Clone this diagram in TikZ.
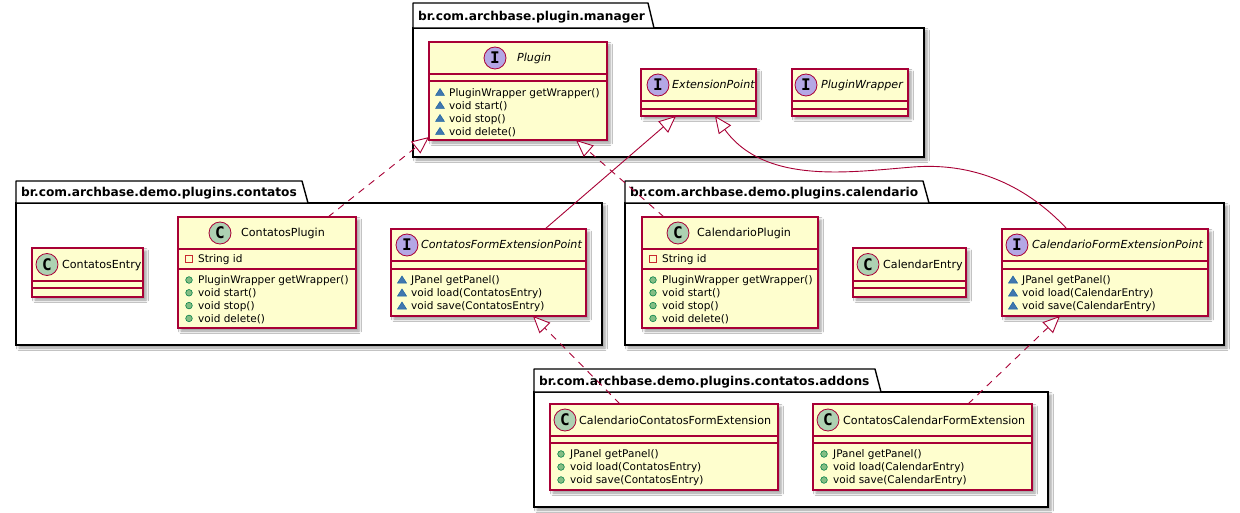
\documentclass[tikz,border=0pt]{standalone}
\usepackage{fontspec}
\setmainfont{DejaVu Sans}
\newfontfamily\glyphfont{DejaVu Sans Mono}
\usetikzlibrary{arrows.meta,shadows.blur,calc}

\definecolor{umlred}{HTML}{A80036}
\definecolor{umlfill}{HTML}{FEFECE}
\definecolor{cgreen}{HTML}{ADD1B2}
\definecolor{ipurple}{HTML}{B4A7E5}
\definecolor{pubfill}{HTML}{84BE84}
\definecolor{publine}{HTML}{038048}
\definecolor{pkgfill}{HTML}{4177AF}
\definecolor{pkgline}{HTML}{1963A0}
\definecolor{privline}{HTML}{C82930}

\tikzset{
  boxshadow/.style={blur shadow={shadow xshift=3pt, shadow yshift=-3pt,
      shadow blur radius=2.5pt, shadow opacity=40}},
  classbox/.style={draw=umlred, fill=umlfill, line width=1.1pt, inner sep=0pt,
      outer sep=0pt, anchor=north west, boxshadow},
  sepstyle/.style={draw=umlred, line width=1.1pt},
  pkgbody/.style={draw=black, fill=white, line width=1.4pt, inner sep=0pt,
      outer sep=0pt, anchor=north west, boxshadow},
  pkgtab/.style={draw=black, fill=white, line width=1.4pt, line join=round},
  pkglabel/.style={anchor=base west, inner sep=0pt,
      font=\bfseries\fontsize{12.2}{14}\selectfont},
  nametext/.style={anchor=base west, inner sep=0pt,
      font=\fontsize{11.1}{13}\selectfont},
  inametext/.style={nametext, font=\itshape\fontsize{11.1}{13}\selectfont},
  membertext/.style={anchor=base west, inner sep=0pt,
      font=\fontsize{10.5}{12.8}\selectfont},
  glyphcircle/.style={circle, draw=umlred, line width=0.8pt, minimum size=22pt,
      inner sep=0pt, font=\glyphfont\bfseries\fontsize{16}{16}\selectfont},
  link/.style={draw=umlred, line width=0.9pt},
  implarrow/.style={link, dash pattern=on 7pt off 6pt,
      -{Triangle[length=17pt, width=15pt, fill=white]}},
  extarrow/.style={link, -{Triangle[length=17pt, width=15pt, fill=white]}},
}

% class box: name, x1, y1, x2, y2
\newcommand\umlbox[5]{%
  \pgfmathsetmacro\bw{#4-#2}\pgfmathsetmacro\bh{#5-#3}%
  \node[classbox, minimum width=\bw pt, minimum height=\bh pt] (#1) at (#2,#3) {};}
% separator line: x1, x2, y
\newcommand\sepln[3]{\draw[sepstyle] (#1,#3) -- (#2,#3);}
% header glyphs: x, y
\newcommand\cglyph[2]{\node[glyphcircle, fill=cgreen] at (#1,#2) {C};}
\newcommand\iglyph[2]{\node[glyphcircle, fill=ipurple] at (#1,#2) {I};}
% class names: x, y centre, text
\newcommand\cname[3]{\node[nametext] at (#1,#2+4) {#3};}
\newcommand\iname[3]{\node[inametext] at (#1,#2+4) {#3};}
% members: box left x, y centre, text
\newcommand\pubm[3]{%
  \filldraw[fill=pubfill, draw=publine, line width=0.6pt] (#1+11,#2) circle (3.3pt);
  \node[membertext] at (#1+20,#2+3.8) {#3};}
\newcommand\pkgm[3]{%
  \filldraw[fill=pkgfill, draw=pkgline, line width=0.5pt]
    (#1+6.5,#2+3) -- (#1+15.5,#2+3) -- (#1+11,#2-4) -- cycle;
  \node[membertext] at (#1+20,#2+3.8) {#3};}
\newcommand\privm[3]{%
  \draw[draw=privline, line width=0.7pt] (#1+7.7,#2-3.3) rectangle (#1+14.3,#2+3.3);
  \node[membertext] at (#1+20,#2+3.8) {#3};}
% package: name, x1, tab top, tab right, body top, x2, y2, label
\newcommand\umlpkg[8]{%
  \pgfmathsetmacro\pw{#6-#2}\pgfmathsetmacro\ph{#7-#5}%
  \node[pkgbody, minimum width=\pw pt, minimum height=\ph pt] (#1) at (#2,#5) {};
  \filldraw[pkgtab] (#2,#5) -- (#2,#3) -- (#4,#3) -- (#4+6,#5) -- cycle;
  \node[pkglabel] (#1-label) at (#2+5,{(#3+#5)/2+5}) {#8};}

\begin{document}
\begin{tikzpicture}[x=1pt, y=-1pt]
\useasboundingbox[fill=white] (0,0) rectangle (1240,513);

% ---------- packages ----------
\umlpkg{pkgmgr}{413}{3}{648}{28}{924}{157}{br.com.archbase.plugin.manager}
\umlpkg{pkgcont}{16}{181}{302}{203}{602}{345}{br.com.archbase.demo.plugins.contatos}
\umlpkg{pkgcal}{625}{181}{923}{203}{1224}{345}{br.com.archbase.demo.plugins.calendario}
\umlpkg{pkgadd}{534}{369}{875}{392}{1048}{507}{br.com.archbase.demo.plugins.contatos.addons}

% ---------- br.com.archbase.plugin.manager ----------
\umlbox{plugin}{429}{42}{607}{140}
\sepln{429}{607}{74}\sepln{429}{607}{81}
\iglyph{495}{58}\iname{517}{58}{Plugin}
\pkgm{429}{92.5}{PluginWrapper getWrapper()}
\pkgm{429}{105.5}{void start()}
\pkgm{429}{118.5}{void stop()}
\pkgm{429}{131.5}{void delete()}

\umlbox{extpt}{641}{69}{756}{116}
\sepln{641}{756}{101}\sepln{641}{756}{109}
\iglyph{658}{85}\iname{672}{85}{ExtensionPoint}

\umlbox{wrapper}{792}{69}{908}{116}
\sepln{792}{908}{101}\sepln{792}{908}{109}
\iglyph{806}{85}\iname{821}{85}{PluginWrapper}

% ---------- br.com.archbase.demo.plugins.contatos ----------
\umlbox{centry}{32}{248}{143}{297}
\sepln{32}{143}{281}\sepln{32}{143}{288}
\cglyph{47}{264.5}\cname{62}{264.5}{ContatosEntry}

\umlbox{cplug}{178}{217}{356}{328}
\sepln{178}{356}{249}\sepln{178}{356}{269}
\cglyph{220}{233}\cname{241}{233}{ContatosPlugin}
\privm{178}{259}{String id}
\pubm{178}{280}{PluginWrapper getWrapper()}
\pubm{178}{292.8}{void start()}
\pubm{178}{305.6}{void stop()}
\pubm{178}{318.4}{void delete()}

\umlbox{cfep}{391}{229}{586}{316}
\sepln{391}{586}{261}\sepln{391}{586}{269}
\iglyph{407}{245}\iname{421}{245}{ContatosFormExtensionPoint}
\pkgm{391}{280}{JPanel getPanel()}
\pkgm{391}{293}{void load(ContatosEntry)}
\pkgm{391}{306}{void save(ContatosEntry)}

% ---------- br.com.archbase.demo.plugins.calendario ----------
\umlbox{calplug}{642}{217}{818}{328}
\sepln{642}{818}{249}\sepln{642}{818}{269}
\cglyph{678}{233}\cname{697}{233}{CalendarioPlugin}
\privm{642}{259}{String id}
\pubm{642}{280}{PluginWrapper getWrapper()}
\pubm{642}{292.8}{void start()}
\pubm{642}{305.6}{void stop()}
\pubm{642}{318.4}{void delete()}

\umlbox{calentry}{853}{248}{966}{297}
\sepln{853}{966}{281}\sepln{853}{966}{288}
\cglyph{868}{264.5}\cname{883}{264.5}{CalendarEntry}

\umlbox{calfep}{1002}{229}{1208}{316}
\sepln{1002}{1208}{261}\sepln{1002}{1208}{269}
\iglyph{1017}{245}\iname{1032}{245}{CalendarioFormExtensionPoint}
\pkgm{1002}{280}{JPanel getPanel()}
\pkgm{1002}{293}{void load(CalendarEntry)}
\pkgm{1002}{306}{void save(CalendarEntry)}

% ---------- br.com.archbase.demo.plugins.contatos.addons ----------
\umlbox{ccfe}{550}{404}{778}{490}
\sepln{550}{778}{436}\sepln{550}{778}{443}
\cglyph{565}{420}\cname{579}{420}{CalendarioContatosFormExtension}
\pubm{550}{454}{JPanel getPanel()}
\pubm{550}{467}{void load(ContatosEntry)}
\pubm{550}{480}{void save(ContatosEntry)}

\umlbox{ccalfe}{813}{404}{1032}{490}
\sepln{813}{1032}{436}\sepln{813}{1032}{443}
\cglyph{828}{420}\cname{843}{420}{ContatosCalendarFormExtension}
\pubm{813}{454}{JPanel getPanel()}
\pubm{813}{467}{void load(CalendarEntry)}
\pubm{813}{480}{void save(CalendarEntry)}

% ---------- relations ----------
\draw[implarrow] ([xshift=150pt]cplug.north west) -- ([yshift=3pt]plugin.south west);
\draw[implarrow] ([xshift=22pt]calplug.north west) -- ([xshift=147pt]plugin.south west);
\draw[extarrow] ([xshift=154pt]cfep.north west) -- ([xshift=35pt]extpt.south west);
\draw[extarrow] ([xshift=65pt]calfep.north west)
   .. controls (1040,200) and (990,161) .. (913,167)
   .. controls (850,172) and (765,185) .. ([xshift=74pt]extpt.south west);
\draw[implarrow] ([xshift=70pt]ccfe.north west) -- ([xshift=142pt]cfep.south west);
\draw[implarrow] ([xshift=155pt]ccalfe.north west) -- ([xshift=58pt]calfep.south west);
\end{tikzpicture}
\end{document}
